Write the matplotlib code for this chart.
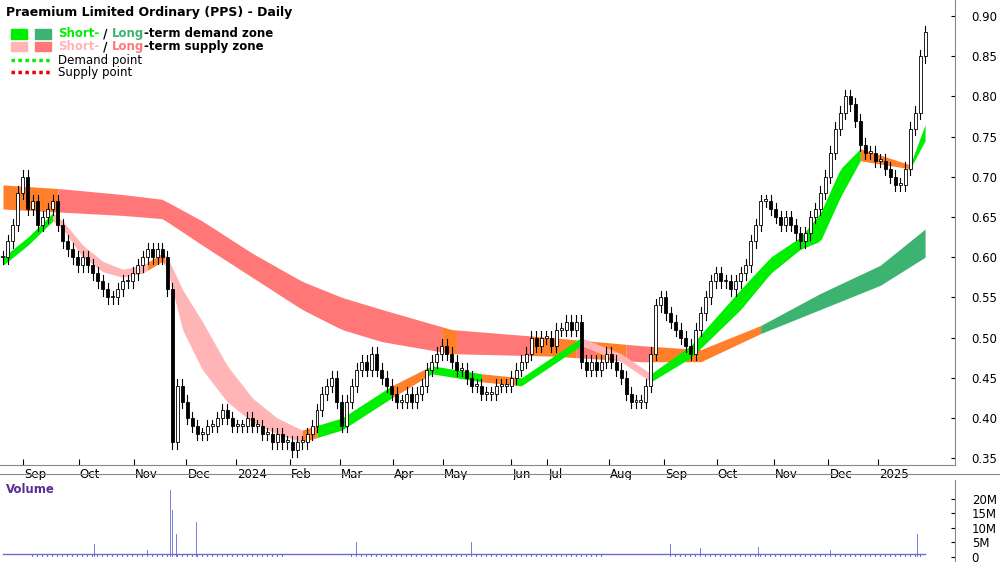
import numpy as np
import matplotlib
matplotlib.use("Agg")
import matplotlib.pyplot as plt
from matplotlib.patches import Rectangle

closes = [0.60,0.62,0.64,0.68,0.70,0.66,0.67,0.64,0.65,0.66,
0.67,0.64,0.62,0.61,0.60,0.59,0.60,0.59,0.58,0.57,
0.56,0.55,0.55,0.56,0.57,0.57,0.58,0.59,0.60,0.61,
0.60,0.61,0.60,0.56,0.37,0.44,0.42,0.40,0.39,0.38,
0.38,0.39,0.39,0.40,0.41,0.40,0.39,0.39,0.39,0.40,
0.39,0.39,0.38,0.38,0.37,0.38,0.37,0.37,0.36,0.37,
0.37,0.38,0.39,0.41,0.43,0.44,0.45,0.42,0.39,0.42,
0.44,0.46,0.47,0.46,0.48,0.46,0.45,0.44,0.43,0.42,
0.42,0.43,0.42,0.43,0.44,0.46,0.47,0.48,0.49,0.48,
0.47,0.46,0.46,0.45,0.44,0.44,0.43,0.43,0.43,0.44,
0.44,0.44,0.45,0.46,0.47,0.48,0.50,0.49,0.50,0.50,
0.49,0.51,0.51,0.52,0.51,0.52,0.47,0.46,0.47,0.46,
0.47,0.48,0.47,0.46,0.45,0.43,0.42,0.42,0.42,0.44,
0.48,0.54,0.55,0.53,0.52,0.51,0.50,0.49,0.48,0.51,
0.53,0.55,0.57,0.58,0.57,0.57,0.56,0.57,0.58,0.59,
0.62,0.64,0.67,0.67,0.66,0.65,0.64,0.65,0.64,0.63,
0.62,0.63,0.65,0.66,0.68,0.70,0.73,0.76,0.78,0.80,
0.79,0.77,0.74,0.73,0.73,0.72,0.72,0.71,0.70,0.69,
0.69,0.71,0.76,0.78,0.85,0.88]

vol_spikes_x = [19,92,145,168,170,174,194,336,355,470,652,670,700,758,830,917,925]
vol_spikes_v = [5,4.5,2.5,23,16,8,12,5,5,5,6,4.5,3,3.5,2.5,8,3]
vol_base = 1.0

month_labels = ["Sep","Oct","Nov","Dec","2024","Feb","Mar","Apr","May","Jun","Jul","Aug","Sep","Oct","Nov","Dec","2025"]
month_pos = [20,76,131,184,234,288,338,391,441,510,546,608,663,716,773,828,878]

long_x = [0,60,120,160,200,250,300,340,380,450,550,640,700,760,820,880,925]
long_u = [0.69,0.685,0.678,0.672,0.645,0.605,0.57,0.55,0.535,0.51,0.50,0.49,0.485,0.515,0.555,0.59,0.635]
long_l = [0.66,0.656,0.652,0.648,0.615,0.575,0.535,0.51,0.495,0.48,0.477,0.47,0.47,0.505,0.535,0.565,0.60]
long_zones = [(0,55,'o'),(55,440,'r'),(440,455,'o'),(455,530,'r'),(530,575,'o'),(575,595,'r'),
              (595,625,'o'),(625,650,'r'),(650,760,'o'),(760,925,'g')]

short_x = [0,25,50,60,80,100,120,140,160,165,180,200,225,250,275,300,340,390,430,480,520,580,620,650,690,740,770,800,820,840,860,885,910,925]
short_u = [0.60,0.625,0.655,0.645,0.615,0.595,0.585,0.59,0.605,0.60,0.56,0.52,0.465,0.425,0.40,0.385,0.40,0.44,0.465,0.455,0.45,0.50,0.48,0.455,0.49,0.56,0.60,0.625,0.655,0.71,0.735,0.725,0.715,0.765]
short_l = [0.59,0.615,0.645,0.635,0.60,0.582,0.575,0.58,0.595,0.585,0.51,0.46,0.42,0.395,0.38,0.37,0.385,0.425,0.455,0.445,0.44,0.49,0.47,0.445,0.475,0.535,0.58,0.61,0.62,0.675,0.72,0.715,0.71,0.745]
short_zones = [(0,50,'G'),(50,145,'p'),(145,162,'o'),(162,300,'p'),(300,315,'o'),(315,390,'G'),(390,425,'o'),
               (425,480,'G'),(480,515,'o'),(515,580,'G'),(580,650,'p'),(650,860,'G'),(860,910,'o'),(910,925,'G')]

cols = {'r':'#ff7777','p':'#ffb5b5','o':'#ff7f2a','g':'#3cb371','G':'#00ee00'}

fig = plt.figure(figsize=(10,5.62), dpi=100)
ax = fig.add_axes([0.0, 1-465/562, 0.955, 465/562])
axv = fig.add_axes([0.0, 0.0, 0.955, 82/562])

def draw_band(xk, uk, lk, zones):
    for a,b,c in zones:
        xx = np.linspace(a,b,60)
        ax.fill_between(xx, np.interp(xx,xk,lk), np.interp(xx,xk,uk), color=cols[c], lw=0, zorder=1)

draw_band(long_x, long_u, long_l, long_zones)
draw_band(short_x, short_u, short_l, short_zones)

xs = np.arange(len(closes))*5
prev = closes[0]
for x,c in zip(xs, closes):
    o = prev
    hi = max(o,c)+0.008; lo = min(o,c)-0.008
    ax.plot([x,x],[lo,hi],color='black',lw=0.8,zorder=3)
    fc = 'white' if c>=o else 'black'
    ax.add_patch(Rectangle((x-1.5,min(o,c)),3,max(abs(c-o),0.002),facecolor=fc,edgecolor='black',lw=0.6,zorder=4))
    prev = c

ax.set_xlim(-3, 955)
ax.set_ylim(0.3415, 0.92)
ax.yaxis.tick_right()
ax.set_yticks([0.35,0.40,0.45,0.50,0.55,0.60,0.65,0.70,0.75,0.80,0.85,0.90])
ax.set_yticklabels([f"{v:.2f}" for v in ax.get_yticks()])
ax.set_xticks(month_pos)
ax.set_xticklabels(month_labels, ha='left')
ax.tick_params(axis='x', direction='in', length=4, pad=2, labelsize=8.5)
ax.tick_params(axis='y', direction='in', length=3, labelsize=8.5, pad=12)
for t in ax.get_xticklabels():
    t.set_transform(t.get_transform() + matplotlib.transforms.ScaledTranslation(1/100,0,fig.dpi_scale_trans))
for s in ['left','top']:
    ax.spines[s].set_visible(False)
ax.spines['right'].set_color('#888888'); ax.spines['bottom'].set_color('#888888')

ax.text(3, 0.913, "Praemium Limited Ordinary (PPS) - Daily", fontsize=9, fontweight='bold', va='top')
ax.add_patch(Rectangle((8,0.872),16,0.012,color='#00ee00'))
ax.add_patch(Rectangle((32,0.872),16,0.012,color='#3cb371'))
ax.add_patch(Rectangle((8,0.856),16,0.012,color='#ffb5b5'))
ax.add_patch(Rectangle((32,0.856),16,0.012,color='#ff7777'))
ax.plot([8,48],[0.845,0.845],color='#00ee00',lw=2.5,ls=(0,(1,1)))
ax.plot([8,48],[0.830,0.830],color='#ee0000',lw=2.5,ls=(0,(1,1)))
def multitext(x,y,parts):
    t = None
    for s,c in parts:
        if t is None:
            t = ax.text(x,y,s,color=c,fontsize=8.5,fontweight='bold',va='center')
        else:
            t = ax.annotate(s,xycoords=t,xy=(1,0),va='bottom',color=c,fontsize=8.5,fontweight='bold')
multitext(55,0.878,[("Short-",'#00ee00'),(" / ",'black'),("Long",'#3cb371'),("-term demand zone",'black')])
multitext(55,0.862,[("Short-",'#ffb5b5'),(" / ",'black'),("Long",'#ff7777'),("-term supply zone",'black')])
ax.text(55,0.845,"Demand point",fontsize=8.5,va='center')
ax.text(55,0.830,"Supply point",fontsize=8.5,va='center')

vols = np.full(len(closes), vol_base)
axv.bar(xs, vols, width=0.8, color='#6b6bd6')
axv.bar(vol_spikes_x, vol_spikes_v, width=0.8, color='#8080e0')
axv.plot(xs, vols*1.1, color='#6b6bd6', lw=1)
axv.set_xlim(-3,955); axv.set_ylim(-1.8,26.5)
axv.yaxis.tick_right()
axv.set_yticks([0,5,10,15,20]); axv.set_yticklabels(["0","5M","10M","15M","20M"])
axv.tick_params(axis='y', direction='in', length=3, labelsize=8.5, pad=12)
axv.set_xticks([])
for s in ['left','top','bottom']:
    axv.spines[s].set_visible(False)
axv.spines['right'].set_color('#888888')
axv.text(3, 25.5, "Volume", color='#5a2d91', fontsize=8.5, fontweight='bold', va='top')
fig.add_artist(matplotlib.lines.Line2D([0,1],[82/562+0.01,82/562+0.01],color='#888888',lw=0.8))
fig.savefig("out.png", dpi=100)
